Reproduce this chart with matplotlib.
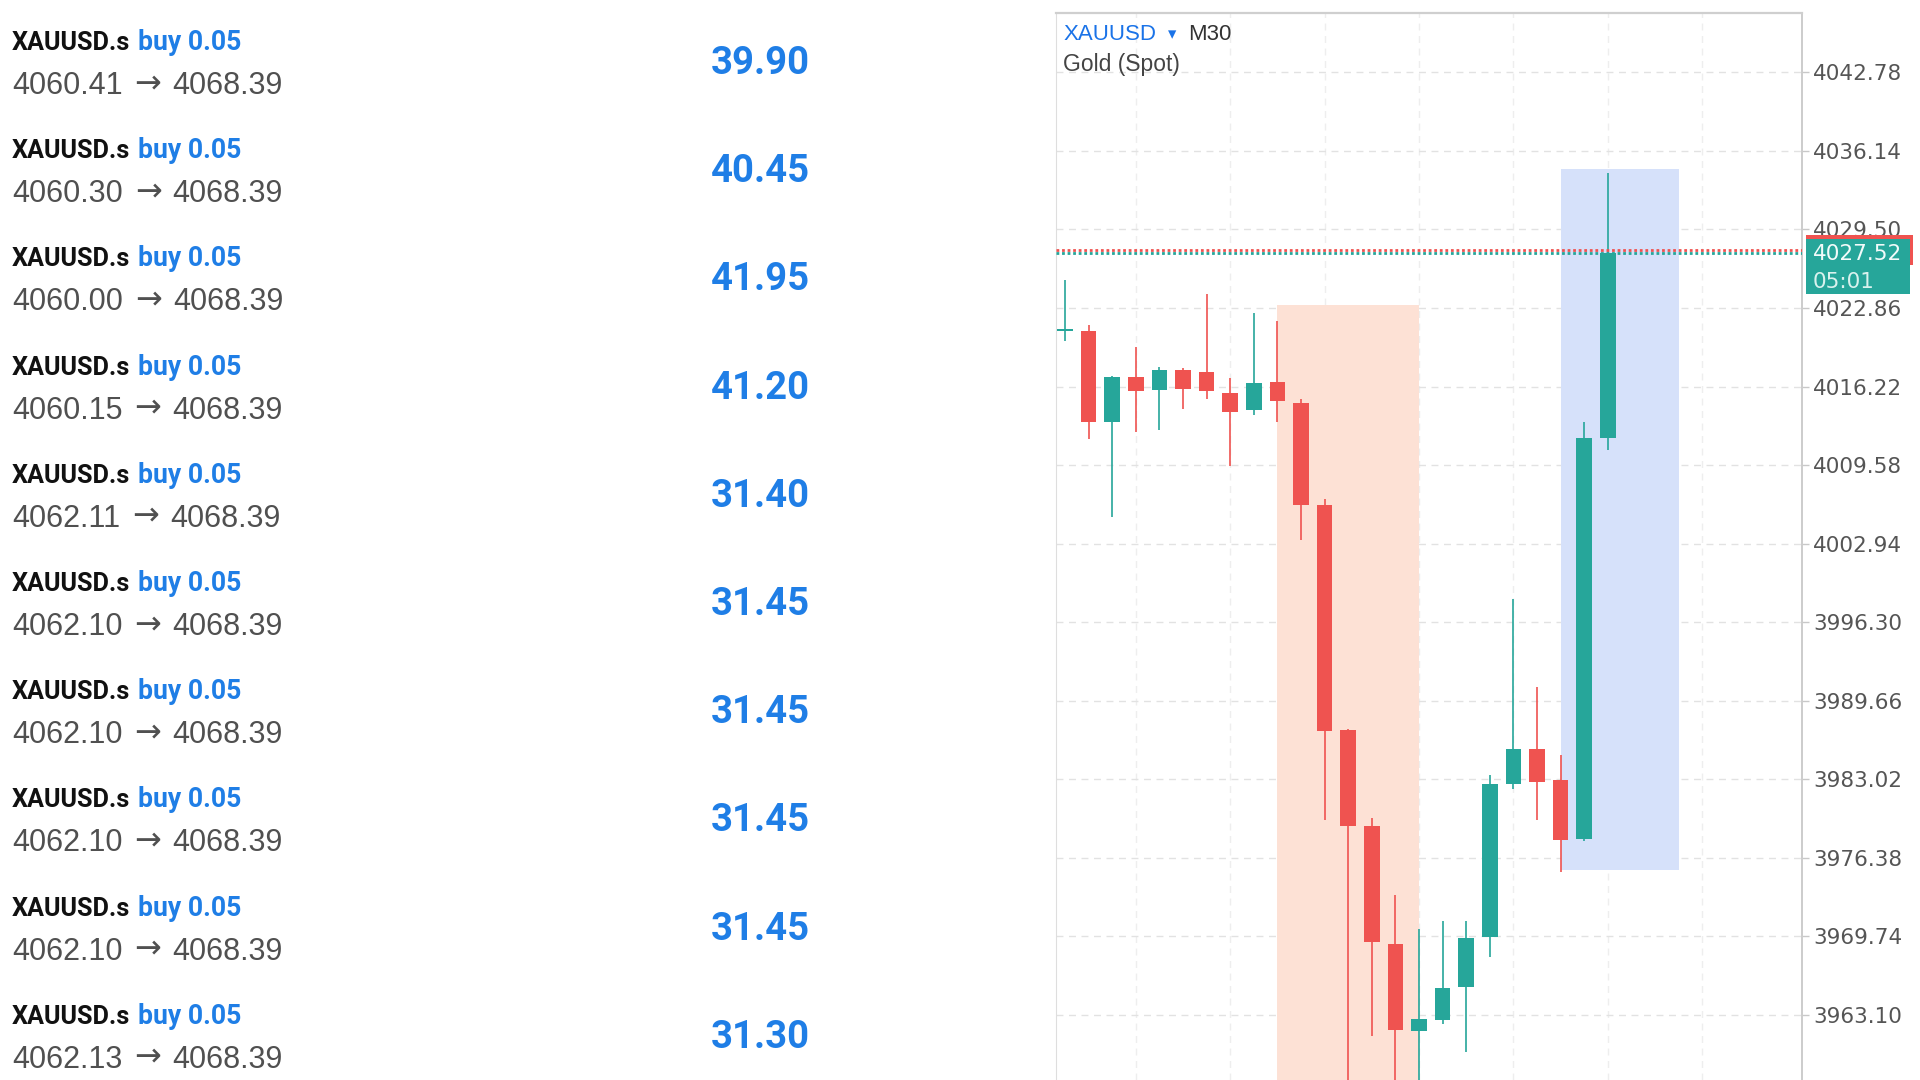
import numpy as np
import matplotlib.pyplot as plt
import matplotlib.transforms as mtransforms
from matplotlib.patches import Rectangle

W, H = 1920, 1080

# ---- trade list (left side) ----
symbols = ["XAUUSD.s"] * 10
sides = ["buy 0.05"] * 10
entry_prices = ["4060.41", "4060.30", "4060.00", "4060.15", "4062.11",
                "4062.10", "4062.10", "4062.10", "4062.10", "4062.13"]
exit_price = "4068.39"
profits = [39.90, 40.45, 41.95, 41.20, 31.40, 31.45, 31.45, 31.45, 31.45, 31.30]

# ---- M30 candles (right side) ----
opens = [4020.88, 4020.93, 4013.24, 4017.04, 4015.93, 4017.63, 4017.48, 4015.67,
         4014.20, 4016.60, 4014.83, 4006.23, 3987.17, 3979.04, 3969.09, 3961.70,
         3962.69, 3965.48, 3969.65, 3982.60, 3985.57, 3982.98, 3977.93, 4011.84]
highs = [4025.23, 4021.43, 4017.10, 4019.59, 4017.86, 4017.80, 4024.00, 4016.90,
         4022.45, 4021.78, 4015.14, 4006.74, 3987.30, 3979.74, 3973.26, 3970.36,
         3971.00, 3971.06, 3983.38, 3998.28, 3990.82, 3985.08, 4013.18, 4034.30]
lows = [4020.11, 4011.78, 4005.20, 4012.36, 4012.51, 4014.35, 4015.14, 4009.50,
        4013.82, 4013.24, 4003.27, 3979.54, 3950.00, 3961.33, 3952.00, 3955.00,
        3962.32, 3960.00, 3968.02, 3982.16, 3979.54, 3975.17, 3977.80, 4010.84]
closes = [4020.98, 4013.24, 4017.04, 4015.87, 4017.63, 4016.02, 4015.87, 4014.03,
          4016.54, 4014.97, 4006.24, 3987.12, 3979.04, 3969.29, 3961.82, 3962.75,
          3965.37, 3969.57, 3982.66, 3985.57, 3982.80, 3977.85, 4011.84, 4027.52]

price_ticks = [4042.78, 4036.14, 4029.50, 4022.86, 4016.22, 4009.58, 4002.94,
               3996.30, 3989.66, 3983.02, 3976.38, 3969.74, 3963.10]

drop_zone = (9, 15, 4023.15)              # x from, x to, top (runs off bottom)
rally_zone = (21, 26, 3975.37, 4034.62)   # x from, x to, bottom, top

bid = 4027.52
ask = 4027.80
timer = "05:01"

GREEN = "#26a69a"
RED = "#ef5350"
BLUE = "#1f7ee6"
regular = ["Liberation Sans", "DejaVu Sans"]


def fx(x):
    return x / W


def fy(y):
    return 1 - y / H


fig = plt.figure(figsize=(19.2, 10.8), dpi=100)
fig.patch.set_facecolor("white")
renderer = fig.canvas.get_renderer()


def width(t):
    return t.get_window_extent(renderer).width


# left list
row_h = 108.2
for i in range(len(profits)):
    dy = i * row_h
    t = fig.text(fx(12), fy(50 + dy), symbols[i], family="Roboto", weight="bold",
                 fontsize=18.2, color="#111111", va="baseline")
    fig.text(fx(12 + width(t) + 8), fy(50 + dy), sides[i], family="Roboto",
             weight="bold", fontsize=19.2, color=BLUE, va="baseline")

    a = fig.text(fx(12), fy(94 + dy), entry_prices[i], fontsize=22,
                 family=regular, color="#505050", va="baseline")
    arrow_x = 12 + width(a) + 12
    b = fig.text(fx(arrow_x), fy(92 + dy), "\u2192", fontsize=23,
                 family=["DejaVu Sans"], color="#505050", va="baseline")
    fig.text(fx(arrow_x + width(b) + 11), fy(94 + dy), exit_price, fontsize=22,
             family=regular, color="#505050", va="baseline")

    fig.text(fx(760), fy(74 + dy), "%.2f" % profits[i], family="Roboto",
             weight="bold", fontsize=27.5, color=BLUE, ha="center", va="baseline")

# chart
ax_left, ax_right, ax_top = 1055.5, 1802, 12.7
ax = fig.add_axes([fx(ax_left), 0, (ax_right - ax_left) / W, (H - ax_top) / H])
ax.set_xlim(-0.40, 31.23)
ax.set_ylim(3957.60, 4047.82)

x = np.arange(len(opens))
o = np.array(opens)
c = np.array(closes)
colors = np.where(c >= o, GREEN, RED)
body_lo = np.minimum(o, c)
body_h = np.maximum(np.abs(c - o), 0.2)

ax.fill_between([drop_zone[0], drop_zone[1]], 3900, drop_zone[2],
                color="#fde1d5", lw=0, zorder=2)
ax.fill_between([rally_zone[0], rally_zone[1]], rally_zone[2], rally_zone[3],
                color="#d6e1fa", lw=0, zorder=2)

ax.vlines(x, lows, highs, colors=colors, lw=1.2, zorder=3)
ax.bar(x, body_h, bottom=body_lo, width=0.66, color=colors, lw=0, zorder=4)

ax.axhline(ask, color=RED, ls=(0, (1, 1)), lw=2, zorder=5)
ax.axhline(bid, color=GREEN, ls=(0, (1, 1)), lw=2, zorder=5)

# grid & axes
ax.set_xticks(range(3, 28, 4))
ax.set_yticks(price_ticks)
ax.set_yticklabels(["%.2f" % t for t in price_ticks])
ax.yaxis.tick_right()
ax.tick_params(axis="x", length=0, labelbottom=False)
ax.tick_params(axis="y", length=5, width=1, color="#c8c8c8", pad=3,
               labelsize=15.5, labelcolor="#555555")
ax.grid(axis="y", color="#e2e2e2", ls=(0, (5, 4)), lw=1)
ax.grid(axis="x", color="#eeeeee", ls=(0, (5, 4)), lw=1)
ax.set_axisbelow(True)
ax.spines["bottom"].set_visible(False)
ax.spines["top"].set_color("#cfcfcf")
ax.spines["top"].set_linewidth(1.6)
ax.spines["left"].set_color("#dedede")
ax.spines["right"].set_color("#cccccc")
ax.spines["right"].set_linewidth(1.4)

# price labels on the right axis
dpp = (ax.get_ylim()[1] - ax.get_ylim()[0]) / (H - ax_top)
ax_w = ax_right - ax_left
trans = mtransforms.blended_transform_factory(ax.transAxes, ax.transData)
x0 = 1 + 4 / ax_w
ax.add_patch(Rectangle((x0, ask - 15 * dpp), 107 / ax_w, 30 * dpp, transform=trans,
                       color=RED, lw=0, clip_on=False, zorder=10))
ax.add_patch(Rectangle((x0, bid - 41 * dpp), 104 / ax_w, 55 * dpp, transform=trans,
                       color=GREEN, lw=0, clip_on=False, zorder=11))
ax.text(1 + 11 / ax_w, bid - 7.5 * dpp, "%.2f" % bid, transform=trans, fontsize=15.5,
        color="#f2fbfa", va="baseline", zorder=12, clip_on=False)
ax.text(1 + 11 / ax_w, bid - 35.5 * dpp, timer, transform=trans, fontsize=15.5,
        color="#d9f2ee", va="baseline", zorder=12, clip_on=False)

# chart header
fig.text(fx(1063), fy(40), "XAUUSD", fontsize=16, family=regular, color="#1a73e8",
         va="baseline")
fig.text(fx(1168), fy(39), "\u25be", fontsize=12, family=["DejaVu Sans"],
         color="#1a73e8", va="baseline")
fig.text(fx(1188), fy(40), "M30", fontsize=16, family=regular, color="#333333",
         va="baseline")
fig.text(fx(1063), fy(71), "Gold (Spot)", fontsize=16.5, family=regular,
         color="#444444", va="baseline")

fig.savefig("out.png", dpi=100)
